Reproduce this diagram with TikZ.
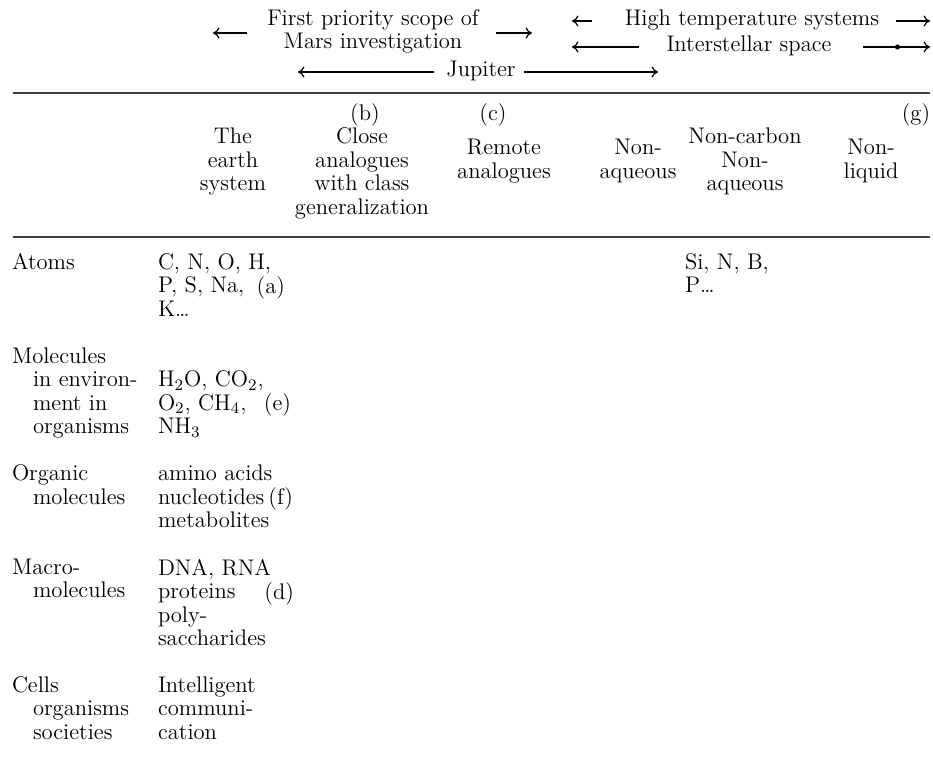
\documentclass[tikz,border=0pt]{standalone}
\usepackage{tikz}
\usetikzlibrary{arrows.meta}

\newcommand\tabfont{\fontsize{11.3}{11.75}\selectfont}
\newcommand\indpad{\hspace*{10.5pt}}

\begin{document}
\begin{tikzpicture}[
  x=0.5pt, y=-0.5pt,
  txt/.style={
    inner sep=0pt,
    outer sep=0pt,
    font=\tabfont
  },
  blk/.style={txt, align=left, anchor=north west, execute at begin node=\strut},
  head/.style={txt, align=center, anchor=north, execute at begin node=\strut},
  tag/.style={txt, anchor=base},
  arr/.style={
    -{To[length=3.2pt, width=5.5pt]},
    line width=0.6pt
  },
  rule/.style={line width=0.55pt, black!75},
  dot/.style={circle, fill, inner sep=0pt, minimum size=2.6pt}
]
\useasboundingbox (0,0) rectangle (933,759);

% Scopes
\node [head] (mars) at (373,9.5) {First priority scope of\\Mars investigation};
\node [tag] (jup) at (481,77) {Jupiter};
\node [tag] (high) at (752,26) {High temperature systems};
\node [tag] (inter) at (749,52) {Interstellar space};

\coordinate (marsL) at (213,33);
\coordinate (marsR) at (532,33);
\coordinate (jupL) at (298,72);
\coordinate (jupR) at (658,72);
\coordinate (highL) at (572,21);
\coordinate (highR) at (930,21);
\coordinate (interL) at (572,47);
\coordinate (interR) at (930,47);

\draw [arr, shorten <=10pt] (mars.west |- marsL) -- (marsL);
\draw [arr, shorten <=8.5pt] (mars.east |- marsR) -- (marsR);
\draw [arr, shorten <=6pt] (jup.west |- jupL) -- (jupL);
\draw [arr, shorten <=4.3pt] (jup.east |- jupR) -- (jupR);
\draw [arr, shorten <=16.5pt] (high.west |- highL) -- (highL);
\draw [arr, shorten <=8.5pt] (high.east |- highR) -- (highR);
\draw [arr, shorten <=13.75pt] (inter.west |- interL) -- (interL);
\draw [arr, shorten <=15.75pt] (inter.east |- interR) -- node [dot, pos=0.67] (interdot) {} (interR);

% Rules
\draw [rule] (13,93) -- (930,93);
\draw [rule] (13,237) -- (930,237);

% Column heads
\node [tag] (lb) at (365,121) {(b)};
\node [tag] (lc) at (493,121) {(c)};
\node [tag] (lg) at (916,121) {(g)};
\node [head] (earth) at (233,128) {The\\earth\\system};
\node [head] (close) at (362,128) {Close\\analogues\\with class\\generalization};
\node [head] (remote) at (504,139.5) {Remote\\analogues};
\node [head] (nonaq) at (638,139.5) {Non-\\aqueous};
\node [head] (noncarb) at (745,128) {Non-carbon\\Non-\\aqueous};
\node [head] (nonliq) at (871,139.5) {Non-\\liquid};

% Row labels
\node [blk] (atoms) at (12,253.5) {Atoms};
\node [blk] (molec) at (12,347.5) {Molecules\\\indpad in environ-\\\indpad ment in\\\indpad organisms};
\node [blk] (organic) at (12,465) {Organic\\\indpad molecules};
\node [blk] (macro) at (12,559) {Macro-\\\indpad molecules};
\node [blk] (cells) at (12,676.5) {Cells\\\indpad organisms\\\indpad societies};

% Entries
\node [blk] (elem) at (158,253.5) {C, N, O, H,\\P, S, Na,\\K\ldots};
\node [blk] (simple) at (158,371) {H$_2$O, CO$_2$,\\O$_2$, CH$_4$,\\NH$_3$};
\node [blk] (small) at (158,465) {amino acids\\nucleotides\\metabolites};
\node [blk] (poly) at (158,559) {DNA, RNA\\proteins\\poly-\\saccharides};
\node [blk] (intel) at (158,676.5) {Intelligent\\communi-\\cation};
\node [blk] (sielem) at (685,253.5) {Si, N, B,\\P\ldots};

\node [tag, anchor=base east] (la) at (285,293.5) {(a)};
\node [tag, anchor=base east] (le) at (291,411) {(e)};
\node [tag, anchor=base east] (lf) at (293,505) {(f)};
\node [tag, anchor=base east] (ld) at (294,599) {(d)};

\end{tikzpicture}
\end{document}
